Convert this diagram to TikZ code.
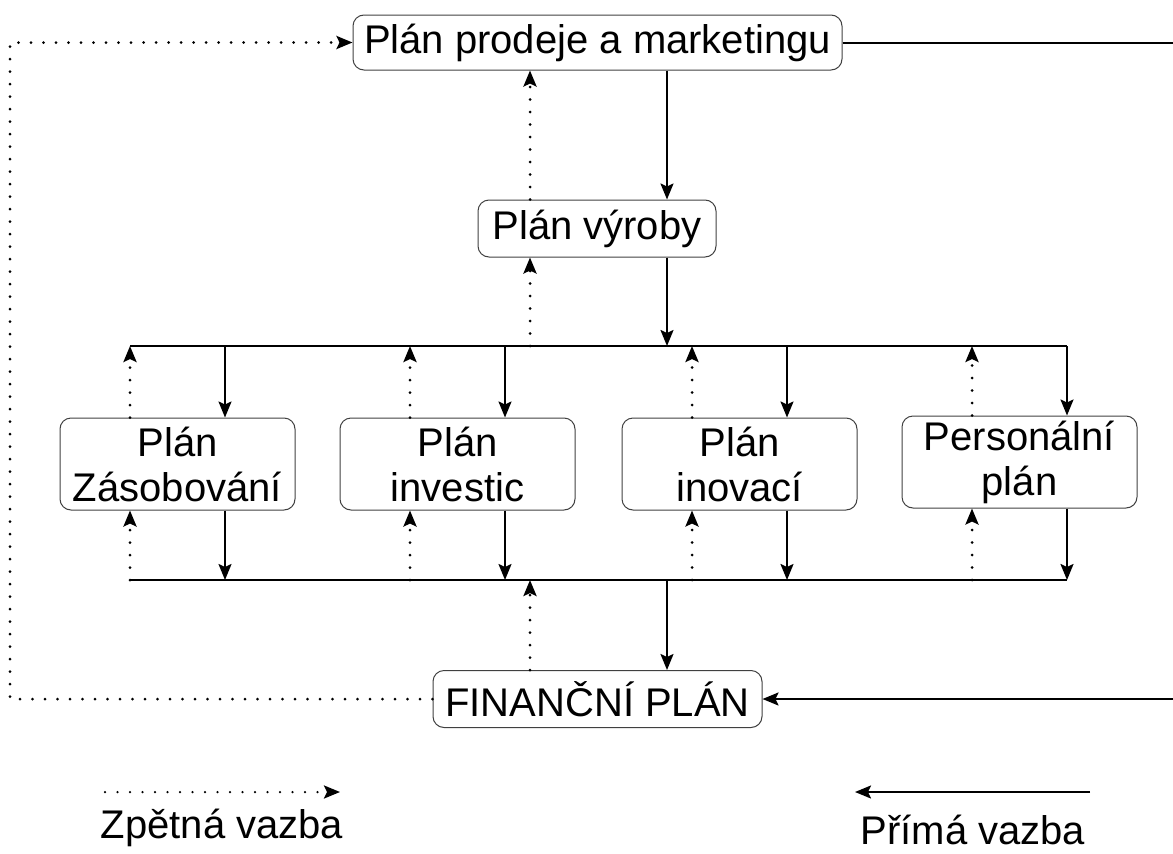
\documentclass[tikz,border=0pt]{standalone}
\usepackage{fontspec}
\setmainfont{Liberation Sans}
\usetikzlibrary{arrows.meta,calc}
\begin{document}
\begin{tikzpicture}[x=1pt,y=-1pt,
  box/.style={draw=black!75, line width=1pt, rounded corners=11pt, align=center,
    font=\fontsize{40}{45}\selectfont, inner sep=0pt},
  fwd/.style={line width=2pt, -{Stealth[length=16pt,width=13pt,inset=3pt]}},
  fb/.style={line width=3pt, dash pattern=on 0pt off 12.5pt, line cap=round,
    -{Stealth[length=16pt,width=13pt,inset=3pt]}},
  plain/.style={line width=2pt},
  lbl/.style={font=\fontsize{40}{45}\selectfont, inner sep=0pt},
]
\useasboundingbox (0,0) rectangle (1173,854);

% nodes
\node[box, minimum width=489pt, minimum height=55pt] (top) at (597.5,42.5) {Plán prodeje a marketingu};
\node[box, minimum width=238pt, minimum height=57pt] (vyr) at (597,228.5) {Plán výroby};
\node[box, minimum width=235pt, minimum height=92pt] (b1) at (177.5,464) {Plán\\Zásobování};
\node[box, minimum width=235pt, minimum height=92pt] (b2) at (457.5,464) {Plán\\investic};
\node[box, minimum width=235pt, minimum height=92pt] (b3) at (739.5,464) {Plán\\inovací};
\node[box, minimum width=235pt, minimum height=92pt] (b4) at (1019.5,462) {Personální\\plán};
\node[box, minimum width=329pt, minimum height=57pt] (fin) at (597.5,699) {FINANČNÍ PLÁN};

% bus coordinates
\coordinate (tbL) at (130,346);
\coordinate (tbR) at (1067,346);
\coordinate (bbL) at (130,580);
\coordinate (bbR) at (1067,580);
\coordinate (rTop) at (1175,42.5);
\coordinate (rFin) at (1175,699);
\coordinate (lTop) at (10,42.5);
\coordinate (lFin) at (10,699);

% buses
\draw[plain] (tbL) -- (tbR);
\draw[plain] (bbL) -- (bbR);

% top box and side lines
\draw[plain] (top.east) -- (rTop);
\draw[fwd] (rFin) -- (fin.east);
\draw[fb] (fin.west) -- (lFin) -- (lTop) -- (top.west);

% top to vyroba
\draw[fwd] ([xshift=69.5pt]top.south) -- ([xshift=70pt]vyr.north);
\draw[fb] ([xshift=-67pt]vyr.north) -- ([xshift=-67.5pt]top.south);
% vyroba to bus
\draw[fwd] ([xshift=70pt]vyr.south) -- ([xshift=70pt]vyr.south |- tbL);
\draw[fb] ([xshift=-67pt]vyr.south |- tbL) -- ([xshift=-67pt]vyr.south);

% boxes
\foreach \b in {b1,b2,b3,b4}{
  \draw[fwd] ([xshift=47.5pt]\b.north |- tbL) -- ([xshift=47.5pt]\b.north);
  \draw[fb] ([xshift=-47.5pt]\b.north) -- ([xshift=-47.5pt]\b.north |- tbL);
  \draw[fwd] ([xshift=47.5pt]\b.south) -- ([xshift=47.5pt]\b.south |- bbL);
  \draw[fb] ([xshift=-47.5pt]\b.south |- bbL) -- ([xshift=-47.5pt]\b.south);
}

% bus to fin
\draw[fwd] ([xshift=69.5pt]fin.north |- bbL) -- ([xshift=69.5pt]fin.north);
\draw[fb] ([xshift=-67.5pt]fin.north) -- ([xshift=-67.5pt]fin.north |- bbL);

% legend
\coordinate (zA) at (105,792);
\coordinate (zB) at (340,792);
\coordinate (pA) at (1090,792);
\coordinate (pB) at (855,792);
\draw[fb, line width=2.5pt] (zA) -- (zB);
\draw[fwd] (pA) -- (pB);
\node[lbl] (zl) at (222,828) {Zpětná vazba};
\node[lbl] (pl) at (973,830) {Přímá vazba};
\end{tikzpicture}
\end{document}
